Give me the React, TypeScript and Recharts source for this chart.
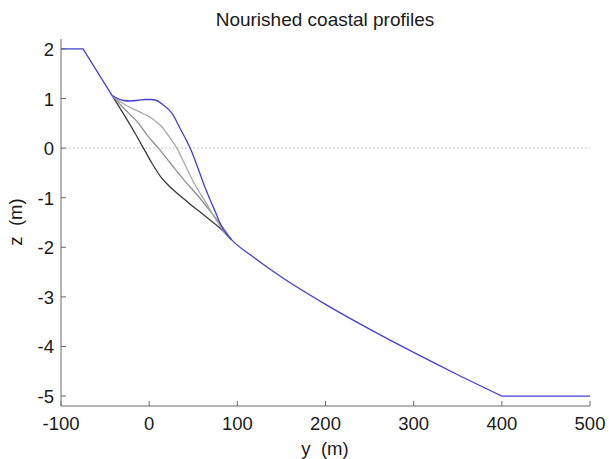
import React from 'react';
import { LineChart, Line, XAxis, YAxis, ReferenceLine } from 'recharts';

// ---- data (y = cross-shore distance in m, z = elevation in m) ----
const upperY = [-100, -75, -42];
const upperZ = [2, 2, 1.06];

const nourishedY = [-42, -29, -21.5, -12, -4.5, 2, 7, 16, 26, 35, 43, 46.5, 54, 63.5, 73, 82, 88, 93.6, 120, 150, 200, 250, 300, 350, 400];
const nourishedZ = [1.06, 0.96, 0.95, 0.965, 0.98, 0.98, 0.97, 0.87, 0.7, 0.4, 0.13, 0, -0.34, -0.8, -1.2, -1.57, -1.74, -1.85, -2.22, -2.6, -3.15, -3.65, -4.12, -4.57, -5];

const tailY = [400, 500];
const tailZ = [-5, -5];

const stage2Y = [-42, -27, -12, 3, 14.4, 23.8, 31.4, 40.8, 52, 63.4, 74.7, 86, 93.6];
const stage2Z = [1.06, 0.87, 0.74, 0.6, 0.43, 0.2, 0, -0.34, -0.74, -1.07, -1.41, -1.71, -1.85];

const stage1Y = [-42, -27, -12, -1, 10.5, 25.7, 40.8, 55.8, 71, 84, 93.6];
const stage1Z = [1.06, 0.77, 0.5, 0.23, 0, -0.34, -0.67, -0.97, -1.31, -1.61, -1.85];

const originalY = [-42, -27, -16, -6.5, 3, 14, 26, 44.5, 63.5, 82, 93.6];
const originalZ = [1.06, 0.63, 0.3, 0, -0.3, -0.6, -0.82, -1.1, -1.37, -1.64, -1.85];

const yTicks = [-100, 0, 100, 200, 300, 400, 500];
const zTicks = [2, 1, 0, -1, -2, -3, -4, -5];

const titleText = 'Nourished coastal profiles';
const xLabelText = 'y  (m)';
const yLabelText = 'z  (m)';

const toPoints = (ys: number[], zs: number[]) => ys.map((y, i) => ({ y, z: zs[i] }));

const upperData = toPoints(upperY, upperZ);
const nourishedData = toPoints(nourishedY, nourishedZ);
const tailData = toPoints(tailY, tailZ);
const stage2Data = toPoints(stage2Y, stage2Z);
const stage1Data = toPoints(stage1Y, stage1Z);
const originalData = toPoints(originalY, originalZ);

// ---- styles ----
const FONT = '"Liberation Sans", Arial, Helvetica, sans-serif';
const AXIS = '#6a6a6a';
const TEXT = '#1a1a1a';
const TL = 5;
const FS = 18.5;
const BLUE = '#4040d4';

const BottomTick = (props: any) => {
  const { x, y, payload } = props;
  return (
    <g>
      <line x1={x} x2={x} y1={y} y2={y - TL} stroke={AXIS} strokeWidth={1} />
      <text x={x} y={y + 24} textAnchor="middle" fontSize={FS} fontFamily={FONT} fill={TEXT}>
        {String(payload.value)}
      </text>
    </g>
  );
};

const TopTick = (props: any) => {
  const { x, y } = props;
  return <line x1={x} x2={x} y1={y} y2={y + TL} stroke={AXIS} strokeWidth={1} />;
};

const LeftTick = (props: any) => {
  const { x, y, payload } = props;
  return (
    <g>
      <line x1={x} x2={x + TL} y1={y} y2={y} stroke={AXIS} strokeWidth={1} />
      <text x={x - 7} y={y + 7} textAnchor="end" fontSize={FS} fontFamily={FONT} fill={TEXT}>
        {String(payload.value)}
      </text>
    </g>
  );
};

const RightTick = (props: any) => {
  const { x, y } = props;
  return <line x1={x} x2={x - TL} y1={y} y2={y} stroke={AXIS} strokeWidth={1} />;
};

export default function App() {
  return (
    <div style={{ position: 'fixed', left: 0, top: 0, width: 609, height: 459, background: '#fff' }}>
      <LineChart width={609} height={459} margin={{ top: 39, right: 19, bottom: 23, left: 0 }}>
        <XAxis
          xAxisId="b"
          dataKey="y"
          type="number"
          domain={[-100, 500]}
          ticks={yTicks}
          allowDataOverflow
          height={30}
          tickSize={0}
          tickMargin={0}
          tickLine={false}
          axisLine={{ stroke: AXIS }}
          tick={<BottomTick />}
        />
        <XAxis
          xAxisId="t"
          orientation="top"
          dataKey="y"
          type="number"
          domain={[-100, 500]}
          ticks={yTicks}
          allowDataOverflow
          height={0}
          tickSize={0}
          tickMargin={0}
          tickLine={false}
          axisLine={{ stroke: AXIS }}
          tick={<TopTick />}
        />
        <YAxis
          yAxisId="l"
          type="number"
          domain={[-5.2, 2.2]}
          ticks={zTicks}
          allowDataOverflow
          width={61}
          tickSize={0}
          tickMargin={0}
          tickLine={false}
          axisLine={{ stroke: AXIS }}
          tick={<LeftTick />}
        />
        <YAxis
          yAxisId="r"
          orientation="right"
          type="number"
          domain={[-5.2, 2.2]}
          ticks={zTicks}
          allowDataOverflow
          width={0}
          tickSize={0}
          tickMargin={0}
          tickLine={false}
          axisLine={{ stroke: AXIS }}
          tick={<RightTick />}
        />
        <ReferenceLine xAxisId="b" yAxisId="l" y={0} stroke="#c4c4c4" strokeDasharray="2 2" strokeWidth={1} />
        <Line xAxisId="b" yAxisId="l" data={originalData} dataKey="z" type="monotone" stroke="#3a3a3a" strokeWidth={1.3} dot={false} isAnimationActive={false} />
        <Line xAxisId="b" yAxisId="l" data={stage1Data} dataKey="z" type="monotone" stroke="#8e8e8e" strokeWidth={1.3} dot={false} isAnimationActive={false} />
        <Line xAxisId="b" yAxisId="l" data={stage2Data} dataKey="z" type="monotone" stroke="#a8a8a8" strokeWidth={1.3} dot={false} isAnimationActive={false} />
        <Line xAxisId="b" yAxisId="l" data={upperData} dataKey="z" type="linear" stroke={BLUE} strokeWidth={1.3} dot={false} isAnimationActive={false} />
        <Line xAxisId="b" yAxisId="l" data={nourishedData} dataKey="z" type="monotone" stroke={BLUE} strokeWidth={1.3} dot={false} isAnimationActive={false} />
        <Line xAxisId="b" yAxisId="l" data={tailData} dataKey="z" type="linear" stroke={BLUE} strokeWidth={1.3} dot={false} isAnimationActive={false} />
      </LineChart>
      <svg width={609} height={459} style={{ position: 'absolute', left: 0, top: 0, pointerEvents: 'none' }}>
        <text x={325} y={26} textAnchor="middle" fontSize={19} fontFamily={FONT} fill={TEXT}>
          {titleText}
        </text>
        <text x={325} y={455} textAnchor="middle" fontSize={FS} fontFamily={FONT} fill={TEXT} style={{ whiteSpace: 'pre' }}>
          {xLabelText}
        </text>
        <text
          x={0}
          y={0}
          transform="translate(22,222) rotate(-90)"
          textAnchor="middle"
          fontSize={FS}
          fontFamily={FONT}
          fill={TEXT}
          style={{ whiteSpace: 'pre' }}
        >
          {yLabelText}
        </text>
      </svg>
    </div>
  );
}
